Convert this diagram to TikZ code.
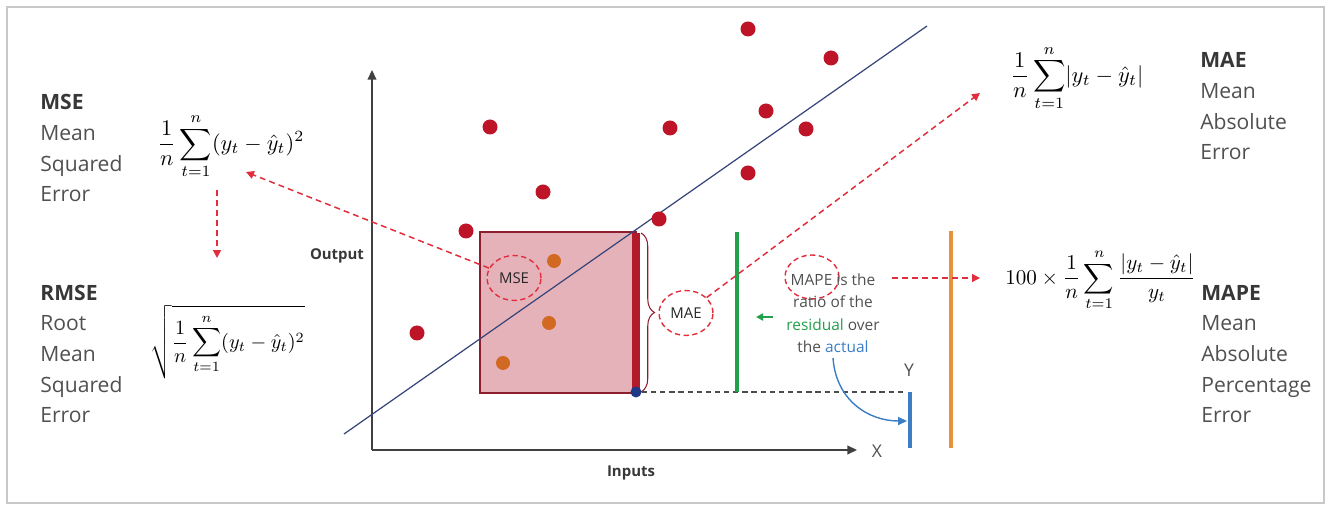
\documentclass[tikz,border=0pt]{standalone}
\usepackage{amsmath}
\usepackage{graphicx}
\usepackage[no-math]{fontspec}
\setmainfont{Open Sans}
\usetikzlibrary{arrows.meta,shapes.geometric,decorations.pathreplacing}
\definecolor{dotred}{RGB}{190,20,40}
\definecolor{dotorange}{RGB}{210,105,35}
\definecolor{pinkfill}{RGB}{230,178,186}
\definecolor{rectred}{RGB}{140,30,45}
\definecolor{barred}{RGB}{178,28,42}
\definecolor{dashred}{RGB}{225,45,60}
\definecolor{fitblue}{RGB}{55,70,120}
\definecolor{dotblue}{RGB}{30,55,135}
\definecolor{resgreen}{RGB}{35,160,75}
\definecolor{actblue}{RGB}{60,125,195}
\definecolor{lineorange}{RGB}{230,145,60}
\definecolor{txtgray}{RGB}{80,80,80}
\definecolor{boldgray}{RGB}{55,55,55}
\definecolor{framegray}{RGB}{200,200,200}
\newcommand{\formbox}[2][1.35]{\scalebox{#1}{$\displaystyle #2$}}

\begin{document}
\begin{tikzpicture}[
  x=0.02cm, y=-0.02cm,
  reddot/.style={circle,fill=dotred,inner sep=0pt,minimum size=0.3cm},
  orangedot/.style={circle,fill=dotorange,inner sep=0pt,minimum size=0.28cm},
  blockname/.style={anchor=base west,align=left,inner sep=0pt,text=txtgray,font=\fontsize{12}{17.5}\selectfont},
  formula/.style={anchor=west,inner sep=0pt},
  tag/.style={ellipse,draw=dashred,dash pattern=on 3pt off 2pt,line width=0.8pt,minimum width=1.08cm,minimum height=0.9cm,inner sep=0pt,text=black!85,font=\fontsize{8.5}{10}\selectfont},
  axlbl/.style={text=boldgray,font=\fontsize{8.5}{10}\selectfont\bfseries},
  redarr/.style={-{Triangle[length=4.5pt,width=4.5pt]},draw=dashred,dash pattern=on 3.4pt off 2.3pt,line width=0.85pt},
  axis/.style={-{Triangle[length=5.5pt,width=5pt]},draw=black!75,line width=0.85pt},
]
\useasboundingbox (0,0) rectangle (1335,519);
\draw[framegray,line width=0.8pt] (7,7) rectangle (1324,503);

% axes
\coordinate (origin) at (372,450);
\coordinate (ytop) at (372,70);
\coordinate (xend) at (857,450);
\draw[axis] (origin) -- (ytop);
\draw[axis] (origin) -- (xend);
\node[axlbl] (outlbl) at (337,256) {Output};
\node[axlbl] (inlbl) at (631,473) {Inputs};
\node[text=txtgray,font=\fontsize{10}{12}\selectfont] (xlbl) at (877,451) {X};
\node[text=txtgray,font=\fontsize{10}{12}\selectfont] (ylbl) at (909,370) {Y};

% squared error box and residual
\draw[fill=pinkfill,draw=rectred,line width=0.6pt] (480,232) rectangle (636,393);
\draw[fitblue,line width=0.7pt] (344,434) -- (927,26);
\draw[barred,line width=5pt] (636,233) -- (636,391);
\node[circle,fill=dotblue,inner sep=0pt,minimum size=0.22cm] (pred) at (636,392) {};
\draw[decorate,decoration={brace,amplitude=0.27cm},draw=rectred,line width=0.6pt] (641,233) -- (641,392);
\draw[black!70,dash pattern=on 3pt off 2.2pt,line width=0.6pt] (pred) -- (905,392);

% data points
\foreach \x/\y [count=\i] in {748/29, 831/58, 490/127, 670/128, 766/111, 806/129,
  543/192, 748/173, 659/219, 466/231, 417/333}
  \node[reddot] (rd\i) at (\x,\y) {};
\foreach \x/\y [count=\i] in {554/261, 549/323, 503/363}
  \node[orangedot] (od\i) at (\x,\y) {};

% actual, residual, percentage bars
\draw[resgreen,line width=2.3pt] (737,232) -- (737,392);
\draw[actblue,line width=2.3pt] (910,392) -- (910,448);
\draw[lineorange,line width=2.3pt] (951,231) -- (951,448);

% tags
\node[tag] (msetag) at (514,278) {MSE};
\node[tag] (maetag) at (686,313) {MAE};
\node[tag,minimum height=0.88cm] (mapetag) at (812,277) {};
\node[align=center,inner sep=0pt,text=txtgray,font=\fontsize{8.8}{12.8}\selectfont] (mapetxt) at (833,313)
  {MAPE is the\\ratio of the\\\textcolor{resgreen}{residual} over\\the \textcolor{actblue}{actual}};

% formulas
\node[formula] (msef) at (157,146) {\formbox[1.27]{\frac{1}{n}\sum_{t=1}^{n}(y_t-\hat{y}_t)^2}};
\node[formula] (rmsef) at (150,342) {\formbox[1.15]{\sqrt{\frac{1}{n}\sum_{t=1}^{n}(y_t-\hat{y}_t)^2}}};
\node[formula] (maef) at (1010,78) {\formbox[1.28]{\frac{1}{n}\sum_{t=1}^{n}\lvert y_t-\hat{y}_t\rvert}};
\node[formula] (mapef) at (1005,280) {\formbox[1.2]{100\times\frac{1}{n}\sum_{t=1}^{n}\frac{\lvert y_t-\hat{y}_t\rvert}{y_t}}};

% names
\node[blockname] (mselbl) at (40,202) {\textcolor{boldgray}{\bfseries MSE}\\Mean\\Squared\\Error};
\node[blockname] (rmselbl) at (40,423) {\textcolor{boldgray}{\bfseries RMSE}\\Root\\Mean\\Squared\\Error};
\node[blockname] (maelbl) at (1200,160) {\textcolor{boldgray}{\bfseries MAE}\\Mean\\Absolute\\Error};
\node[blockname] (mapelbl) at (1201,423) {\textcolor{boldgray}{\bfseries MAPE}\\Mean\\Absolute\\Percentage\\Error};

% connectors
\coordinate (msetip) at (246,172);
\coordinate (msedown) at (217,190);
\coordinate (rmseup) at (217,258);
\coordinate (maetip) at (980,93);
\coordinate (mapefrom) at (892,278);
\coordinate (mapeto) at (980,278);
\coordinate (greenfrom) at (773,317);
\coordinate (greento) at (756,317);
\coordinate (actualto) at (907,421);
\draw[redarr] (msetag) -- (msetip);
\draw[redarr] (msedown) -- (rmseup);
\draw[redarr] (maetag) -- (maetip);
\draw[redarr] (mapefrom) -- (mapeto);
\draw[-{Triangle[length=4pt,width=4pt]},resgreen,line width=1.1pt] (greenfrom) -- (greento);
\draw[-{Triangle[length=5pt,width=4.5pt]},actblue,line width=0.8pt]
  ([yshift=-0.1cm]mapetxt.south) .. controls (836,400) and (868,421) .. (actualto);
\end{tikzpicture}
\end{document}
